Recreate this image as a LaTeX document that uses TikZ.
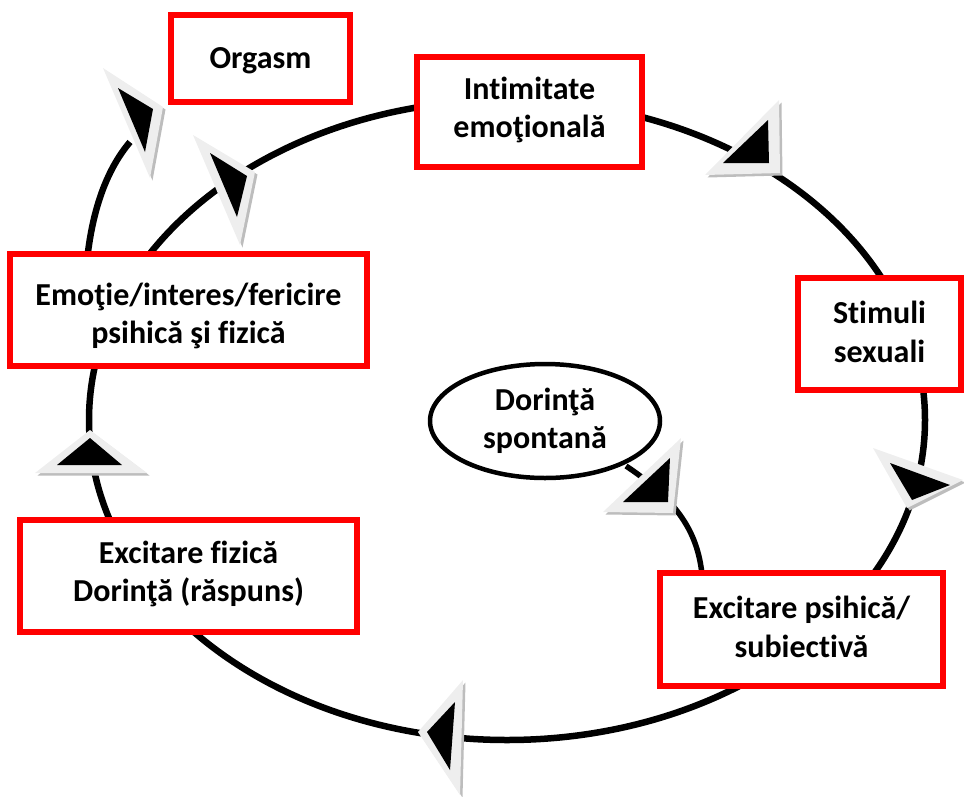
\documentclass[tikz,border=0pt]{standalone}
\usepackage{fontspec}
\setmainfont{Carlito}[Ligatures=NoCommon]
\usetikzlibrary{shapes.geometric}
\definecolor{boxred}{HTML}{FF0000}
\definecolor{triface}{HTML}{EEEEEE}
\definecolor{trishade}{HTML}{BDBDBD}
\newcommand\trihead[6]{%
  \fill[trishade,shift={(2.5,2.5)}] #1 -- #2 -- #3 -- cycle;
  \fill[triface] #1 -- #2 -- #3 -- cycle;
  \fill[black] #4 -- #5 -- #6 -- cycle;
}
\begin{document}
\begin{tikzpicture}[x=1pt,y=-1pt,
  loopline/.style={line width=6.5pt,black},
  redbox/.style={draw=boxred,line width=6pt,fill=white},
  lbl/.style={font=\bfseries\fontsize{32}{38.5}\selectfont,align=center,inner sep=0pt}]
\useasboundingbox (0,0) rectangle (964,796);
% main loop
\draw[loopline] (507,420) ellipse [x radius=418pt, y radius=320pt];
% coordinates for branch connectors
\coordinate (orgstart) at (88,252);
\coordinate (orgend) at (130,142);
\coordinate (dorout) at (626,466);
\coordinate (expin) at (702,574);
\draw[loopline] (orgstart) .. controls (94,205) and (108,168) .. (orgend);
\draw[line width=5.5pt] (dorout) .. controls (685,505) and (698,540) .. (expin);
% boxes
\draw[redbox] (171,15) rectangle (350,102);
\node[lbl] (org) at (260.5,61) {Orgasm};
\draw[redbox] (417,57) rectangle (642,167);
\node[lbl] (int) at (529.5,110) {Intimitate\\emoţională};
\draw[redbox] (798,278) rectangle (961,390);
\node[lbl] (stim) at (879.5,332) {Stimuli\\sexuali};
\draw[redbox] (10,254) rectangle (367,366);
\node[lbl] (emo) at (188.5,316) {Emoţie/interes/fericire\\psihică şi fizică};
\draw[redbox] (20,520) rectangle (357,632);
\node[lbl] (exf) at (188.5,574) {Excitare fizică\\Dorinţă (răspuns)};
\draw[redbox] (660,573) rectangle (943,686);
\node[lbl] (exp) at (801.5,627) {Excitare psihică/\\subiectivă};
% spontaneous desire
\node[draw,line width=4.5pt,fill=white,ellipse,minimum width=230pt,minimum height=114pt,inner sep=0pt] (dor) at (545,421) {};
\node[lbl] at (dor.center) {Dorinţă\\spontană};
% arrowheads
\trihead{(103,68)}{(163,107)}{(150,178)}{(118,88)}{(153,109)}{(145,152)}
\trihead{(193,135)}{(255,172)}{(240,245)}{(210,153)}{(247,176)}{(237,217)}
\trihead{(779,100)}{(705,175)}{(780,173)}{(768,120)}{(723,163)}{(769,163)}
\trihead{(873,448)}{(963,480)}{(907,508)}{(890,463)}{(950,485)}{(912,500)}
\trihead{(681,438)}{(603,512)}{(673,513)}{(670,458)}{(623,502)}{(668,502)}
\trihead{(463,680)}{(418,732)}{(460,795)}{(455,702)}{(427,732)}{(450,770)}
\trihead{(90,430)}{(35,473)}{(147,473)}{(90,438)}{(57,465)}{(122,465)}
\end{tikzpicture}
\end{document}
